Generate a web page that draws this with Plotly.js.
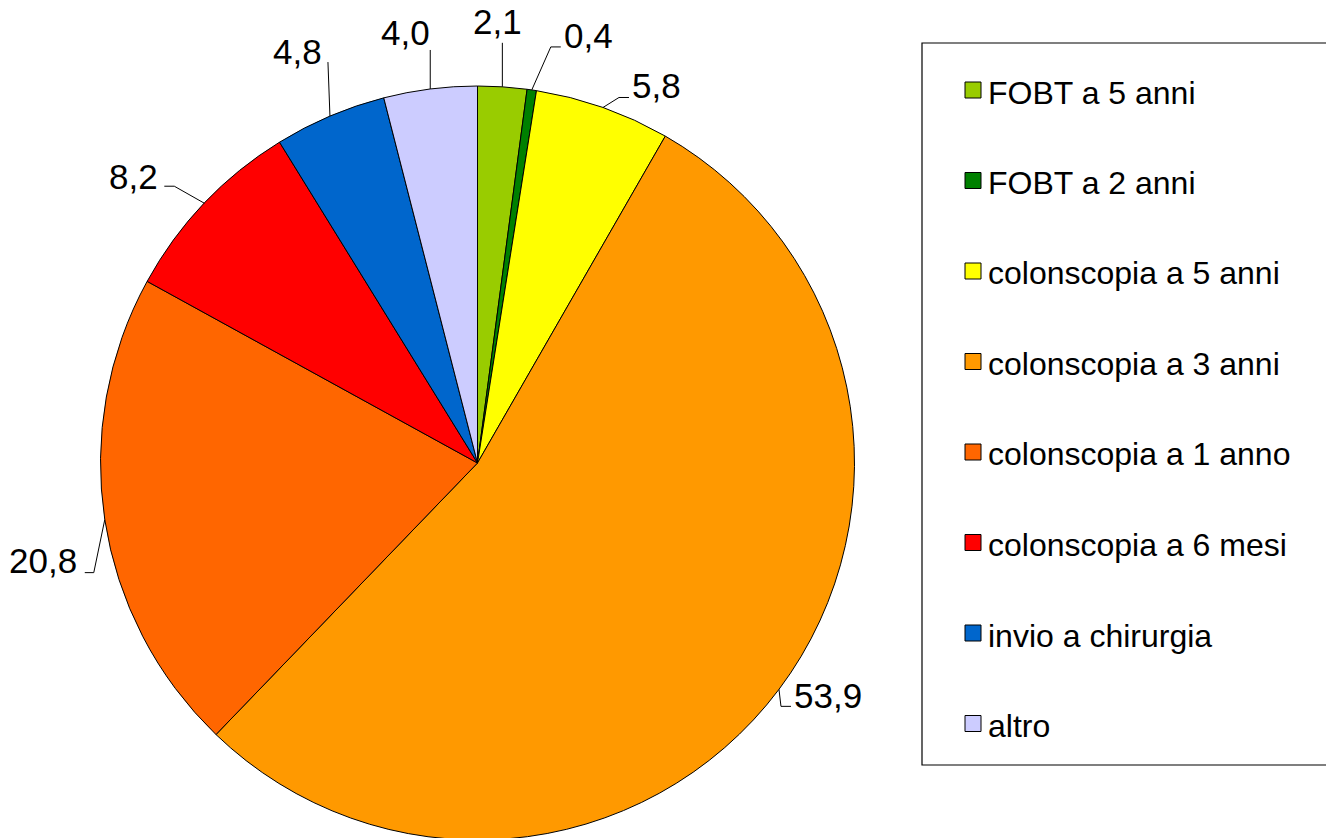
<!DOCTYPE html>
<html>
<head>
<meta charset="utf-8">
<script src="https://cdn.plot.ly/plotly-3.0.1.min.js"></script>
<style>
  html, body { margin: 0; padding: 0; overflow: hidden; background: #fff; }
  #chart { width: 1326px; height: 840px; }
</style>
</head>
<body>
<div id="chart"></div>
<script>
// ---- data ----
const categories = ['FOBT a 5 anni', 'FOBT a 2 anni', 'colonscopia a 5 anni', 'colonscopia a 3 anni',
                    'colonscopia a 1 anno', 'colonscopia a 6 mesi', 'invio a chirurgia', 'altro'];
const values = [2.1, 0.4, 5.8, 53.9, 20.8, 8.2, 4.8, 4.0];
const sliceColors = ['#99CC00', '#008000', '#FFFF00', '#FF9900', '#FF6600', '#FF0000', '#0066CC', '#CCCCFF'];

// ---- layout / style (positions of leader lines relative to slice anchor) ----
const W = 1326, H = 840;
const FONT = 'Liberation Sans, Arial, Helvetica, sans-serif';
const pieDomainX = [100.5 / W, 854.5 / W];
const pieDomainY = [0, 754 / H];
// per slice: elbow offset (dx,dy), horizontal tail, text offset from line end (tx,ty), text anchor
const leaderStyle = [
  {dx: 0,   dy: -44, tail: 0,   tx: -5,  ty: -21,   xa: 'center'},
  {dx: 19,  dy: -43, tail: 10,  tx: 1,   ty: -11,   xa: 'left'},
  {dx: 16,  dy: -10, tail: 10,  tx: 1,   ty: -11.5, xa: 'left'},
  {dx: 2,   dy: 17,  tail: 10,  tx: 1,   ty: -11,   xa: 'left'},
  {dx: -11, dy: 53,  tail: -9,  tx: -6,  ty: -12,   xa: 'right'},
  {dx: -30, dy: -17, tail: -10, tx: -4,  ty: -10,   xa: 'right'},
  {dx: -2,  dy: -54, tail: 0,   tx: -4,  ty: -10.5, xa: 'right'},
  {dx: 0,   dy: -39, tail: 0,   tx: 2,   ty: -17.5, xa: 'right'}
];
const legendBox = {x0: 922, y0: 43, x1: 1340, y1: 765};
const legendFirstY = 90, legendStep = 90.5, legendSq = 16, legendSqX = 965, legendTextX = 986;

// ---- helpers ----
const px = x => x / W;
const py = y => 1 - y / H;
const fmt = v => v.toFixed(1).replace('.', ',');

// pie geometry as Plotly computes it from the domain
const cx = W * (pieDomainX[0] + pieDomainX[1]) / 2;
const cy = H * (1 - (pieDomainY[0] + pieDomainY[1]) / 2);
const R = Math.min(W * (pieDomainX[1] - pieDomainX[0]), H * (pieDomainY[1] - pieDomainY[0])) / 2;
const total = values.reduce((a, b) => a + b, 0);

const shapes = [];
const annotations = [];
let cum = 0;
values.forEach((v, i) => {
  const mid = (cum + v / 2) / total * 2 * Math.PI;
  cum += v;
  const P = [cx + R * Math.sin(mid), cy - R * Math.cos(mid)];
  const s = leaderStyle[i];
  const E = [P[0] + s.dx, P[1] + s.dy];
  const Q = [E[0] + s.tail, E[1]];
  shapes.push({
    type: 'path', xref: 'paper', yref: 'paper',
    path: `M ${px(P[0])} ${py(P[1])} L ${px(E[0])} ${py(E[1])} L ${px(Q[0])} ${py(Q[1])}`,
    line: {color: '#000', width: 1}
  });
  annotations.push({
    xref: 'paper', yref: 'paper', x: px(Q[0] + s.tx), y: py(Q[1] + s.ty),
    xanchor: s.xa, yanchor: 'middle', showarrow: false,
    text: fmt(v), font: {family: FONT, size: 35, color: '#000'}
  });
});

// manual legend (box, colour squares, labels)
shapes.push({
  type: 'rect', xref: 'paper', yref: 'paper',
  x0: px(legendBox.x0), x1: px(legendBox.x1), y0: py(legendBox.y1), y1: py(legendBox.y0),
  line: {color: '#000', width: 1.2}, fillcolor: 'rgba(0,0,0,0)'
});
categories.forEach((c, i) => {
  const yc = legendFirstY + i * legendStep;
  shapes.push({
    type: 'rect', xref: 'paper', yref: 'paper',
    x0: px(legendSqX), x1: px(legendSqX + legendSq),
    y0: py(yc + legendSq / 2), y1: py(yc - legendSq / 2),
    line: {color: '#000', width: 1}, fillcolor: sliceColors[i]
  });
  annotations.push({
    xref: 'paper', yref: 'paper', x: px(legendTextX), y: py(yc + 2.5),
    xanchor: 'left', yanchor: 'middle', showarrow: false,
    text: c, font: {family: FONT, size: 32, color: '#000'}
  });
});

const trace = {
  type: 'pie',
  labels: categories,
  values: values,
  sort: false,
  direction: 'clockwise',
  rotation: 0,
  marker: {colors: sliceColors, line: {color: '#000', width: 1}},
  textinfo: 'none',
  hoverinfo: 'label+value',
  domain: {x: pieDomainX, y: pieDomainY},
  showlegend: false
};

const layout = {
  width: W, height: H,
  margin: {l: 0, r: 0, t: 0, b: 0},
  paper_bgcolor: '#fff',
  showlegend: false,
  font: {family: FONT},
  shapes: shapes,
  annotations: annotations
};

Plotly.newPlot('chart', [trace], layout, {displayModeBar: false, staticPlot: true});
</script>
</body>
</html>
